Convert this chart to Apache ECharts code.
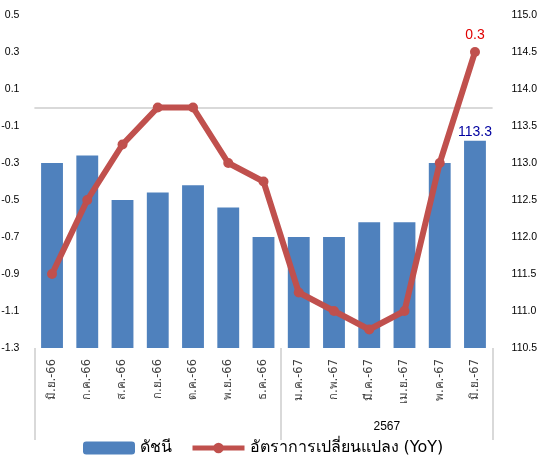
<!DOCTYPE html>
<html>
<head>
<meta charset="utf-8">
<script src="https://cdn.jsdelivr.net/npm/echarts@6/dist/echarts.min.js"></script>
<style>
html,body{margin:0;padding:0;background:#fff;}
#chart{width:542px;height:459px;}
</style>
</head>
<body>
<div id="chart"></div>
<script>
const categories = ['มิ.ย.-66','ก.ค.-66','ส.ค.-66','ก.ย.-66','ต.ค.-66','พ.ย.-66','ธ.ค.-66','ม.ค.-67','ก.พ.-67','มี.ค.-67','เม.ย.-67','พ.ค.-67','มิ.ย.-67'];
const indexValues = [113.0,113.1,112.5,112.6,112.7,112.4,112.0,112.0,112.0,112.2,112.2,113.0,113.3];
const yoyValues = [-0.9,-0.5,-0.2,0.0,0.0,-0.3,-0.4,-1.0,-1.1,-1.2,-1.1,-0.3,0.3];
const groupBoundaries = [0,7,13];
const groupLabels = [{at:10,text:'2567'}];
const seriesNames = ['ดัชนี','อัตราการเปลี่ยนแปลง (YoY)'];

const FONT = 'Tahoma, "DejaVu Sans", "Noto Sans", sans-serif';
const NUMFONT = '"Liberation Sans", Arial, sans-serif';
const last = categories.length - 1;

const barData = indexValues.map((v,i)=> i===last ? {value:v,label:{show:true,position:'top',color:'#0000A0',fontSize:14,fontFamily:NUMFONT,distance:2,formatter:p=>p.value.toFixed(1)}} : v);
const lineData = yoyValues.map((v,i)=> i===last ? {value:v,label:{show:true,position:'top',color:'#E00000',fontSize:14,fontFamily:NUMFONT,distance:5,formatter:p=>p.value.toFixed(1)}} : v);

const chart = echarts.init(document.getElementById('chart'));
chart.setOption({
  animation:false,
  textStyle:{fontFamily:FONT},
  grid:{left:34.4,right:49.4,top:15,bottom:111,containLabel:false,outerBoundsMode:'none'},
  legend:{
    top:440,left:83,padding:0,itemGap:18,itemWidth:52,itemHeight:13,
    textStyle:{fontSize:16,color:'#000',fontFamily:FONT},
    data:[
      {name:seriesNames[0]},
      {name:seriesNames[1],lineStyle:{width:5,color:'#C0504D'}}
    ]
  },
  xAxis:[{
    type:'category',data:categories,
    axisLine:{show:false},axisTick:{show:false},
    axisLabel:{rotate:90,fontSize:11.5,color:'#404040',margin:11,interval:0}
  },{
    type:'value',min:0,max:categories.length,position:'bottom',
    axisLine:{show:false},splitLine:{show:false},
    axisTick:{show:true,customValues:groupBoundaries,length:92,lineStyle:{color:'#d9d9d9',width:2}},
    axisLabel:{customValues:groupLabels.map(g=>g.at),margin:73,fontSize:12,fontFamily:NUMFONT,color:'#000',
      formatter:v=>{const g=groupLabels.find(x=>x.at===v);return g?g.text:'';}}
  }],
  yAxis:[{
    type:'value',min:-1.3,max:0.5,interval:0.2,
    axisLine:{show:false},axisTick:{show:false},splitLine:{show:false},
    axisLabel:{fontSize:10.5,fontFamily:NUMFONT,color:'#000',margin:15,formatter:v=>v.toFixed(1)}
  },{
    type:'value',min:110.5,max:115.0,interval:0.5,position:'right',
    axisLine:{show:false},axisTick:{show:false},splitLine:{show:false},
    axisLabel:{fontSize:10.5,fontFamily:NUMFONT,color:'#000',margin:19,formatter:v=>v.toFixed(1)}
  }],
  series:[{
    name:seriesNames[0],type:'bar',xAxisIndex:0,yAxisIndex:1,data:barData,
    barWidth:'62%',
    itemStyle:{color:'#4F81BD'}
  },{
    name:seriesNames[1],type:'line',xAxisIndex:0,yAxisIndex:0,data:lineData,
    symbol:'circle',symbolSize:10,
    lineStyle:{color:'#C0504D',width:6},
    itemStyle:{color:'#C0504D'},
    z:5,
    markLine:{silent:true,symbol:'none',label:{show:false},
      lineStyle:{color:'#d9d9d9',width:2,type:'solid'},
      data:[{yAxis:0}]}
  }]
});
</script>
</body>
</html>
